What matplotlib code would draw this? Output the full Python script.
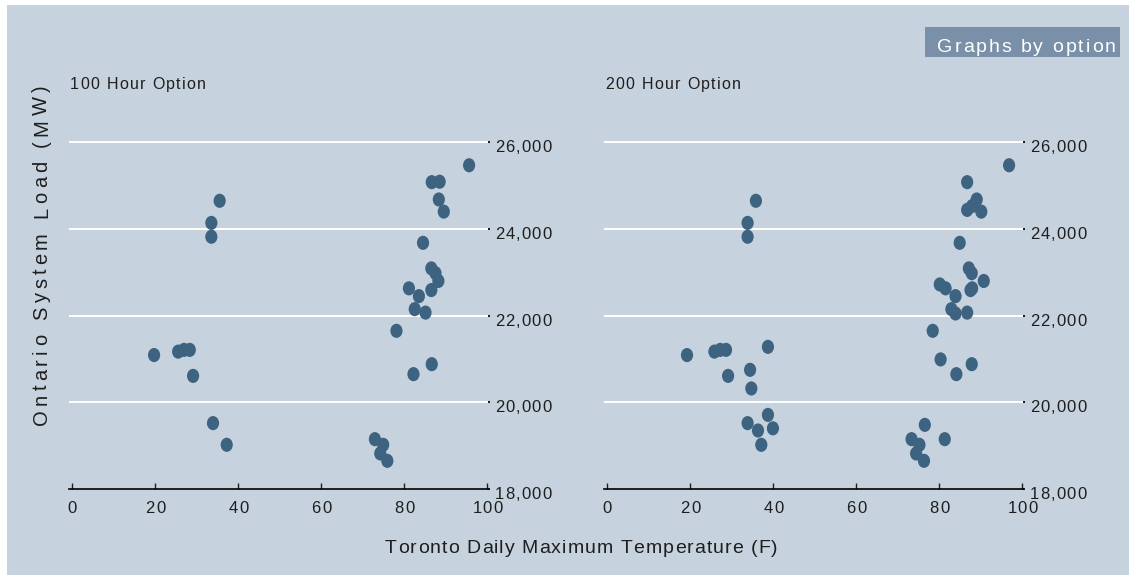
import matplotlib
matplotlib.use("Agg")
import matplotlib.pyplot as plt
import numpy as np
from matplotlib.patches import Rectangle
from matplotlib.path import Path
from matplotlib.font_manager import FontProperties, findfont
from matplotlib.ft2font import FT2Font

# Data: daily max temperature (F) vs Ontario system load (MW)
temp_100 = [95.6, 86.6, 88.5, 88.3, 89.5, 35.5, 33.5, 33.5, 84.5, 86.5, 87.5, 88.2,
            81.1, 86.5, 83.5, 82.5, 85.1, 78.1, 19.7, 25.5, 26.9, 28.3, 29.1, 86.6,
            82.2, 33.9, 37.2, 72.9, 74.9, 74.2, 75.9]
load_100 = [25470, 25080, 25090, 24680, 24400, 24650, 24140, 23820, 23680, 23090, 22980, 22800,
            22630, 22590, 22450, 22150, 22070, 21650, 21090, 21170, 21210, 21210, 20610, 20880,
            20650, 19520, 19020, 19150, 19020, 18820, 18650]

temp_200 = [96.8, 86.7, 89.0, 87.9, 86.7, 90.1, 35.8, 33.8, 33.8, 84.9, 87.1, 87.8, 90.7,
            80.1, 81.5, 87.5, 87.9, 83.9, 82.9, 83.9, 86.7, 78.4, 19.2, 25.8, 27.2, 28.6,
            38.7, 34.4, 29.1, 34.7, 80.3, 87.8, 84.1, 38.7, 33.8, 39.9, 36.3, 37.1, 76.5,
            81.3, 73.3, 75.2, 74.4, 76.3]
load_200 = [25470, 25080, 24680, 24530, 24440, 24400, 24650, 24140, 23820, 23680, 23090, 22980, 22800,
            22720, 22630, 22590, 22630, 22450, 22150, 22050, 22070, 21650, 21090, 21170, 21210, 21210,
            21280, 20750, 20610, 20320, 20990, 20880, 20650, 19710, 19520, 19400, 19350, 19020, 19480,
            19150, 19150, 19020, 18820, 18650]

panel_titles = ["100 Hour Option", "200 Hour Option"]
x_ticks = [0, 20, 40, 60, 80, 100]
y_ticks = [18000, 20000, 22000, 24000, 26000]

W, H, DPI = 1129, 575, 100
BG = "#c6d3df"
DOT = "#3e6380"
TEXT = "#1e1e1e"
FONT = "Liberation Sans"
plt.rcParams["font.family"] = FONT

fig = plt.figure(figsize=(W / DPI, H / DPI), dpi=DPI, facecolor="white")
fig.patches.append(Rectangle((7 / W, 0), 1 - 7 / W, 1 - 5 / H, transform=fig.transFigure,
                             facecolor=BG, edgecolor="none", zorder=-10))

font_file = findfont(FontProperties(family=FONT))


def tracked(x, y, s, size, gap, color=TEXT, rotation=0, ha="left"):
    # letter-spaced text like Stata; x, y in pixels from top-left, y = baseline
    ft = FT2Font(font_file)
    ft.set_size(size, DPI)
    adv = [ft.load_char(ord(ch)).linearHoriAdvance / 65536 for ch in s]
    total = sum(adv) + gap * (len(s) - 1)
    pos = -total / 2 if ha == "center" else 0
    for ch, a in zip(s, adv):
        if rotation == 90:
            px, py = x, y - pos
        else:
            px, py = x + pos, y
        fig.text(px / W, 1 - py / H, ch, fontsize=size, family=FONT, color=color,
                 rotation=rotation, rotation_mode="anchor", ha="left", va="baseline")
        pos += a + gap


# slightly tall ellipse marker
circle = Path.unit_circle()
ellipse = Path(circle.vertices * [0.86, 1.0], circle.codes)

panels = [(69.2, temp_100, load_100), (604.2, temp_200, load_200)]
for i, (left, temps, loads) in enumerate(panels):
    ax = fig.add_axes([left / W, (H - 489) / H, 419 / W, (489 - 135) / H])
    ax.set_facecolor("none")
    ax.set_xlim(-0.75, 100.2)
    ax.set_ylim(18000, 26168)
    for g in y_ticks[1:]:
        ax.axhline(g, color="white", lw=1.4, zorder=1)
    ax.scatter(temps, loads, s=104, marker=ellipse, color=DOT, edgecolors="none", zorder=3)

    for side in ["left", "right", "top"]:
        ax.spines[side].set_visible(False)
    ax.spines["bottom"].set_color("black")
    ax.spines["bottom"].set_linewidth(1.2)

    ax.set_xticks(x_ticks)
    ax.set_xticklabels([])
    ax.tick_params(axis="x", direction="in", length=4, width=1, colors=TEXT)
    ax.yaxis.tick_right()
    ax.set_yticks(y_ticks)
    ax.set_yticklabels([])
    ax.tick_params(axis="y", direction="out", length=1.5, width=1.5, colors=TEXT)

    # tick labels drawn letter-spaced at the axis positions
    for t in x_ticks:
        px, py = ax.transData.transform((t, 18000))
        tracked(px, H - py + 24, str(t), 12, 1.2, ha="center")
    for v in y_ticks:
        px, py = ax.transAxes.transform((1, 0))[0], ax.transData.transform((0, v))[1]
        tracked(px + 6.5, H - py + 10, f"{v:,}", 12, 1.2)

    tracked(left + 1, 89, panel_titles[i], 11.5, 1.3)

# "Graphs by option" note box
fig.patches.append(Rectangle((925 / W, 1 - 57 / H), 195 / W, 30 / H, transform=fig.transFigure,
                             facecolor="#7a90a8", edgecolor="none"))
tracked(937, 52, "Graphs by option", 14, 2, color="white")

tracked(581.5, 553, "Toronto Daily Maximum Temperature (F)", 14, 1.1, ha="center")
tracked(47, 255, "Ontario System Load (MW)", 14.5, 4.2, rotation=90, ha="center")

fig.savefig("out.png", dpi=DPI, facecolor="white")
